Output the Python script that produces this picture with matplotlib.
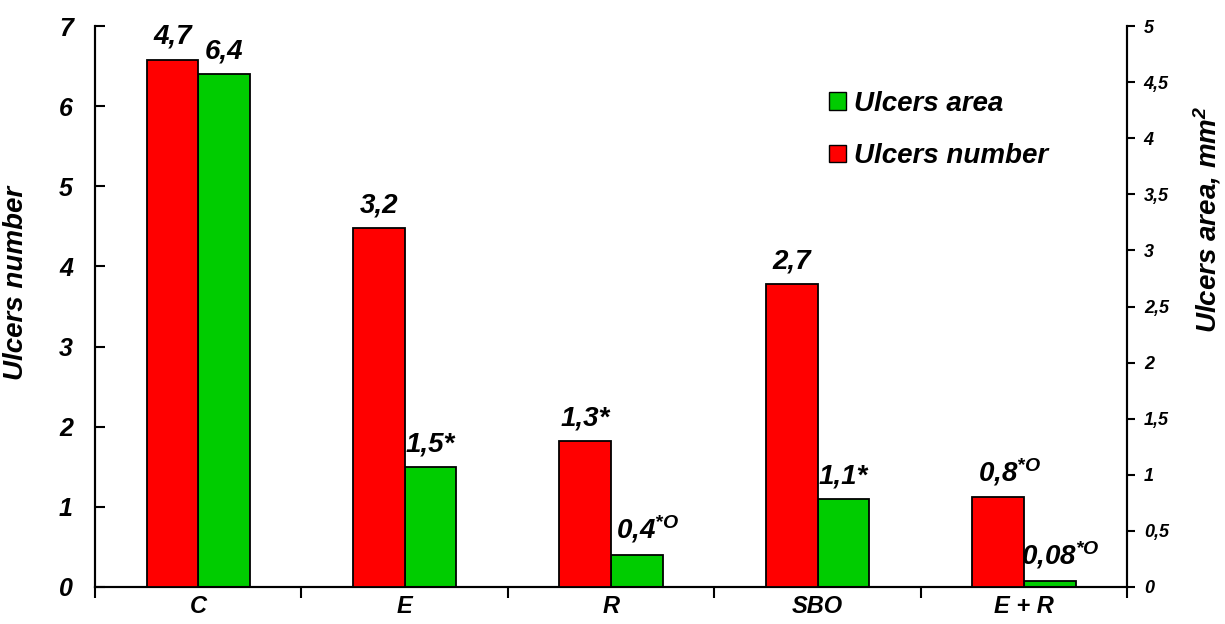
"""Ulcers number / area, dual-axis bar chart."""

import matplotlib

matplotlib.use("Agg")

import matplotlib.pyplot as plt
import numpy as np
from matplotlib.patches import Patch

RED = "#FF0000"
GREEN = "#00CC00"
DARK = "#000000"

groups = ["C", "E", "R", "SBO", "E + R"]
red_values = [4.7, 3.2, 1.3, 2.7, 0.8]  # plotted on the right axis
green_values = [6.4, 1.5, 0.4, 1.1, 0.08]  # plotted on the left axis
red_labels = ["4,7", "3,2", "1,3*", "2,7", "0,8$^{*O}$"]
green_labels = ["6,4", "1,5*", "0,4$^{*O}$", "1,1*", "0,08$^{*O}$"]
left_ticks = [0, 1, 2, 3, 4, 5, 6, 7]
right_ticks = [0, 0.5, 1, 1.5, 2, 2.5, 3, 3.5, 4, 4.5, 5]

plt.rcParams.update(
    {
        "font.family": ["Liberation Sans", "DejaVu Sans"],
        "font.weight": "bold",
        "font.style": "italic",
        "axes.labelweight": "bold",
        "mathtext.fontset": "custom",
        "mathtext.rm": "Liberation Sans:italic:bold",
        "mathtext.it": "Liberation Sans:italic:bold",
        "mathtext.bf": "Liberation Sans:italic:bold",
        "mathtext.default": "it",
    }
)

fig = plt.figure(figsize=(12.25, 6.24), dpi=100)
ax = fig.add_axes([0.0776, 0.0593, 0.8425, 0.8990])
ax_r = ax.twinx()

x = np.arange(len(groups))
width = 0.25

bars_g = ax.bar(
    x + width / 2, green_values, width=width, color=GREEN,
    edgecolor=DARK, linewidth=1.3, zorder=3,
)
bars_r = ax_r.bar(
    x - width / 2, red_values, width=width, color=RED,
    edgecolor=DARK, linewidth=1.3, zorder=3,
)


def label_bars(axis, bars, labels):
    for bar, text in zip(bars, labels):
        # labels with a superscript mark: keep the number over the bar
        shift = 8 if "$" in text else 0
        axis.annotate(
            text, (bar.get_x() + bar.get_width() / 2, bar.get_height()),
            xytext=(shift, 7), textcoords="offset points",
            ha="center", va="bottom", fontsize=20,
        )


label_bars(ax, bars_g, green_labels)
label_bars(ax_r, bars_r, red_labels)

ax.set_xlim(-0.5, len(groups) - 0.5)
ax.set_ylim(0, 7)
ax_r.set_ylim(0, 5)

ax.set_xticks(np.arange(-0.5, len(groups), 1.0))
ax.set_xticklabels([])
ax.set_xticks(x, minor=True)
ax.set_xticklabels(groups, minor=True, fontsize=17)
ax.tick_params(axis="x", which="major", direction="out", length=8, width=1.5)
ax.tick_params(axis="x", which="minor", length=0, pad=6)

ax.set_yticks(left_ticks)
ax.set_yticklabels([str(t) for t in left_ticks], fontsize=18)
ax.tick_params(axis="y", direction="in", length=7, width=1.5, pad=16)

ax_r.set_yticks(right_ticks)
ax_r.set_yticklabels([f"{t:g}".replace(".", ",") for t in right_ticks],
                     fontsize=13)
ax_r.tick_params(axis="y", direction="out", length=6, width=1.5, pad=6)

for a in (ax, ax_r):
    a.spines["top"].set_visible(False)
    for side in ("left", "right", "bottom"):
        a.spines[side].set_linewidth(1.5)

ax.set_ylabel("Ulcers number", fontsize=20)
ax.yaxis.set_label_coords(-0.064, 0.542)
ax_r.set_ylabel("Ulcers area, mm$^2$", fontsize=20)
ax_r.yaxis.set_label_coords(1.062, 0.656)

handles = [
    Patch(facecolor=GREEN, edgecolor=DARK, linewidth=1.0, label="Ulcers area"),
    Patch(facecolor=RED, edgecolor=DARK, linewidth=1.0, label="Ulcers number"),
]
fig.legend(
    handles=handles, loc="upper left", bbox_to_anchor=(0.668, 0.872),
    frameon=False, fontsize=20, handlelength=0.6, handleheight=0.6,
    handletextpad=0.3, labelspacing=0.95, borderaxespad=0,
)

fig.savefig("out.png", dpi=100)
